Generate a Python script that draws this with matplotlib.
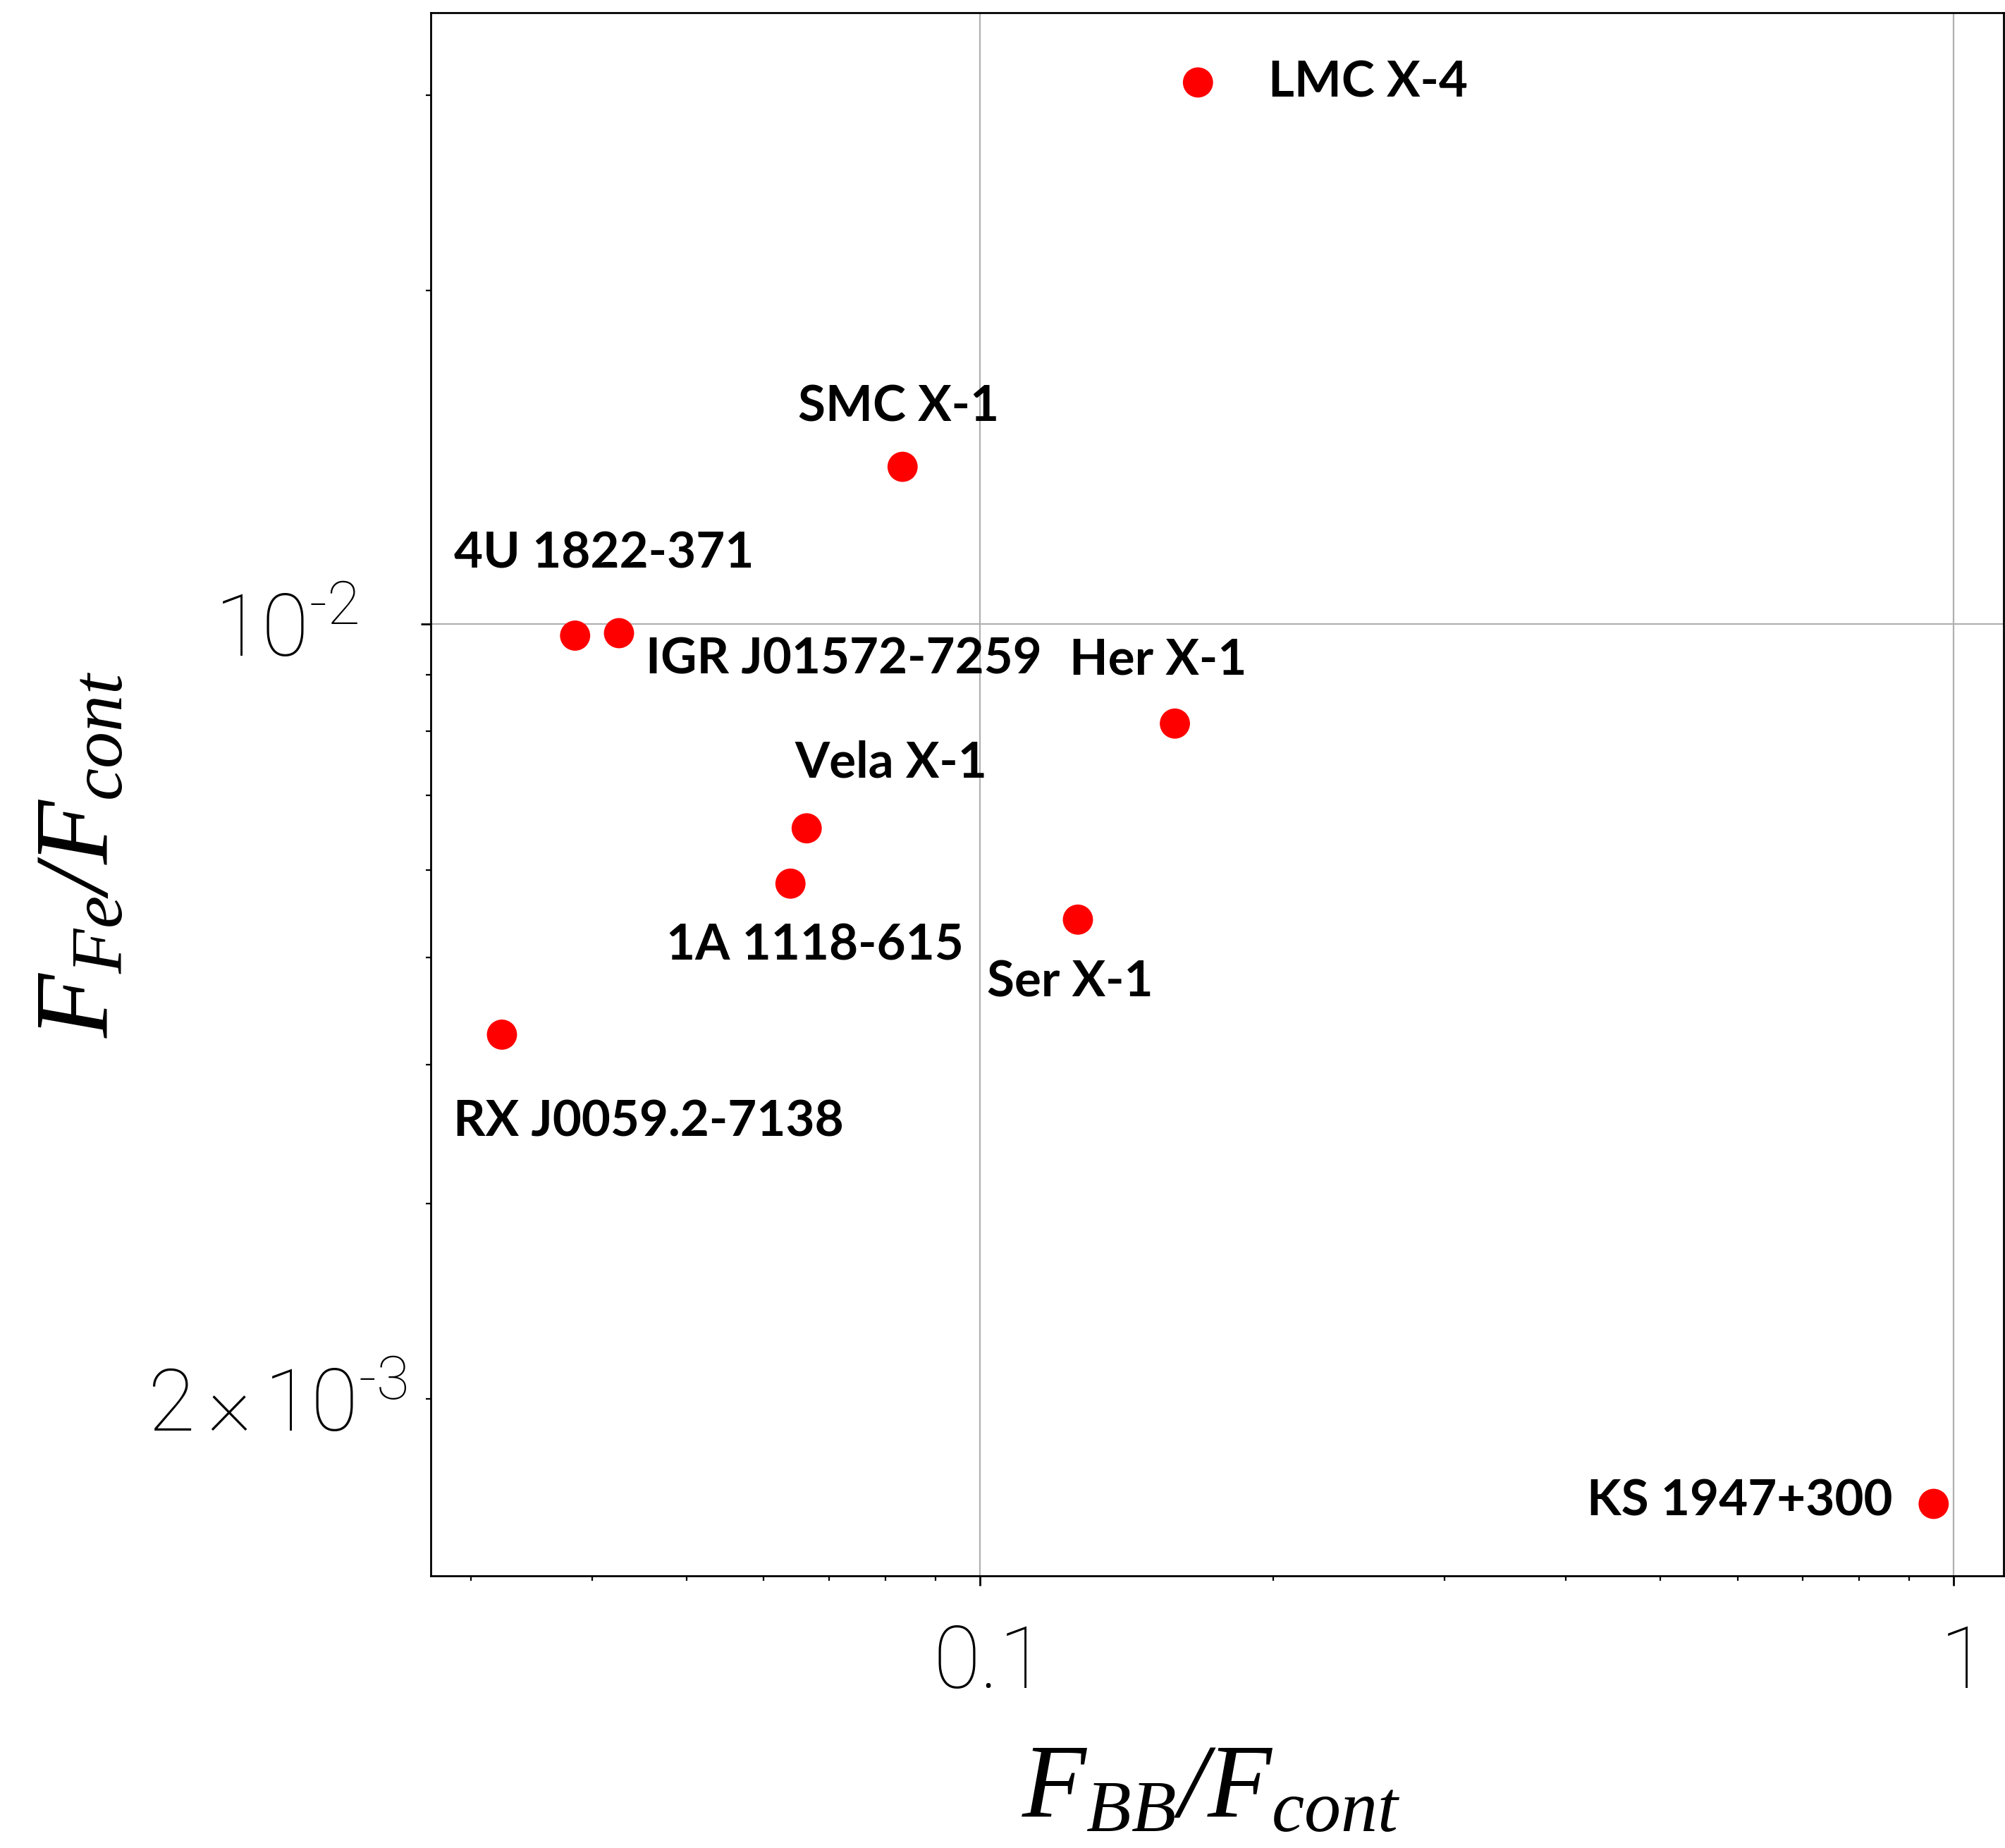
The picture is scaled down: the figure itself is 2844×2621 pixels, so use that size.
import numpy as np
import matplotlib
matplotlib.use("Agg")
import matplotlib.pyplot as plt
from matplotlib.ticker import LogLocator, FuncFormatter, NullFormatter, FixedLocator

# ---------------- data ----------------
sources = ["LMC X-4", "SMC X-1", "4U 1822-371", "IGR J01572-7259", "Her X-1",
           "Vela X-1", "1A 1118-615", "Ser X-1", "RX J0059.2-7138", "KS 1947+300"]
f_bb = [0.1675, 0.0833, 0.0384, 0.0426, 0.1586, 0.0664, 0.0639, 0.1261, 0.0323, 0.954]
f_fe = [0.0308, 0.01386, 0.00976, 0.00981, 0.00813, 0.00654, 0.00583, 0.00541, 0.00426, 0.001607]

x_ticks = [0.1, 1.0]
x_ticklabels = [r"$\mathsf{0.1}$", r"$\mathsf{1}$"]
y_labeled = {1e-2: "$\\mathsf{10^{\u20102}}$", 2e-3: "$\\mathsf{2\\times10^{\u20103}}$"}

# ---------------- layout / style ----------------
# label offsets in points and alignment (layout only)
label_offsets = [(72, 0, "left"), (-4, 61, "center"), (-124, 84, "left"),
                 (27, -27, "left"), (-17, 65, "center"), (-12, 67, "left"),
                 (25, -63, "center"), (-8, -64, "center"), (-50, -89, "left"),
                 (-42, 3, "right")]

plt.rcParams["mathtext.fontset"] = "custom"
plt.rcParams["mathtext.rm"] = "Liberation Serif:italic"
plt.rcParams["mathtext.it"] = "Liberation Serif:italic"
plt.rcParams["mathtext.sf"] = "Roboto:light"

fig = plt.figure(figsize=(28.44, 26.21), dpi=100)
ax = fig.add_axes([0.2148, 0.1473, 0.7845, 0.8458])

ax.scatter(f_bb, f_fe, s=950, color="#ff0000", edgecolors="none", zorder=3)

for name, x, y, (dx, dy, ha) in zip(sources, f_bb, f_fe, label_offsets):
    ax.annotate(name, (x, y), xytext=(dx, dy), textcoords="offset points",
                ha=ha, va="center", fontsize=51, fontweight="bold",
                family="Lato", color="black", zorder=4)

ax.set_xscale("log")
ax.set_yscale("log")
ax.set_xlim(0.02729, 1.1256)
ax.set_ylim(0.001384, 0.0356)

ax.xaxis.set_major_locator(FixedLocator(x_ticks))
ax.xaxis.set_major_formatter(FuncFormatter(lambda v, p: x_ticklabels[x_ticks.index(v)] if v in x_ticks else ""))
ax.xaxis.set_minor_locator(LogLocator(base=10, subs=np.arange(2, 10)))
ax.xaxis.set_minor_formatter(NullFormatter())

ax.yaxis.set_major_locator(LogLocator(base=10))
ax.yaxis.set_minor_locator(LogLocator(base=10, subs=np.arange(2, 10)))


def yfmt(v, p):
    for k, s in y_labeled.items():
        if abs(v - k) / k < 1e-6:
            return s
    return ""


ax.yaxis.set_major_formatter(FuncFormatter(yfmt))
ax.yaxis.set_minor_formatter(FuncFormatter(yfmt))

ax.grid(True, which="major", color="#b0b0b0", linewidth=1.6, zorder=0)
ax.set_axisbelow(True)
for sp in ax.spines.values():
    sp.set_linewidth(2.0)

ax.tick_params(axis="both", which="major", direction="out", length=10, width=2.0, labelsize=88)
ax.tick_params(axis="both", which="minor", direction="out", length=5, width=1.6, labelsize=88)
ax.tick_params(axis="x", which="major", pad=38)
ax.tick_params(axis="y", which="major", pad=64)
ax.tick_params(axis="y", which="minor", pad=19)

ax.set_xlabel(r"$F_{BB}/F_{cont}$", fontsize=107, va="center")
ax.set_ylabel(r"$F_{Fe}/F_{cont}$", fontsize=107, va="center")
ax.xaxis.set_label_coords(0.496, -0.136)
ax.yaxis.set_label_coords(-0.2237, 0.4614)

fig.savefig("out.png", dpi=100)
